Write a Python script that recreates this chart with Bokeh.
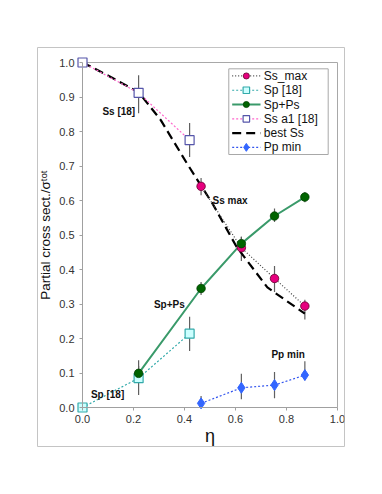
from bokeh.plotting import figure
from bokeh.models import FixedTicker, PrintfTickFormatter
from bokeh.core.properties import value
from bokeh.embed import file_html
from bokeh.resources import INLINE

# ---------------- data ----------------
x_ticks = [0.0, 0.2, 0.4, 0.6, 0.8, 1.0]
y_ticks = [0.0, 0.1, 0.2, 0.3, 0.4, 0.5, 0.6, 0.7, 0.8, 0.9, 1.0]

# Ss a1 [18]
ssa1_x = [0.0, 0.22, 0.42]
ssa1_y = [1.0, 0.912, 0.775]
ssa1_err_x = [0.22, 0.42]
ssa1_err_lo = [0.853, 0.726]
ssa1_err_hi = [0.963, 0.825]

# Sp [18]
sp18_x = [0.0, 0.22, 0.42]
sp18_y = [0.0, 0.085, 0.214]
sp18_err_x = [0.22, 0.42]
sp18_err_lo = [0.036, 0.164]
sp18_err_hi = [0.137, 0.263]

# Ss_max
ssmax_x = [0.465, 0.623, 0.753, 0.872]
ssmax_y = [0.641, 0.463, 0.374, 0.294]
ssmax_err_lo = [0.615, 0.425, 0.335, 0.255]
ssmax_err_hi = [0.665, 0.495, 0.410, 0.312]

# Sp+Ps
spps_x = [0.22, 0.465, 0.623, 0.753, 0.872]
spps_y = [0.099, 0.345, 0.475, 0.555, 0.610]
spps_err_lo = [0.080, 0.326, 0.450, 0.538, 0.595]
spps_err_hi = [0.120, 0.364, 0.495, 0.577, 0.625]

# Pp min
ppmin_x = [0.465, 0.623, 0.753, 0.872]
ppmin_y = [0.012, 0.057, 0.065, 0.094]
ppmin_err_lo = [0.000, 0.024, 0.027, 0.079]
ppmin_err_hi = [0.033, 0.098, 0.103, 0.134]

# best Ss (curve)
best_x = [0.0, 0.085, 0.22, 0.307, 0.41, 0.464, 0.51, 0.604, 0.725, 0.872]
best_y = [1.0, 0.968, 0.914, 0.833, 0.707, 0.644, 0.591, 0.466, 0.348, 0.272]

# in-plot annotations
note_text = ["Ss  [18]", "Ss max", "Sp+Ps", "Sp  [18]", "Pp min"]
note_x = [0.078, 0.51, 0.28, 0.033, 0.741]
note_y = [0.857, 0.601, 0.300, 0.037, 0.153]

# legend entries (top to bottom)
legend_labels = ["Ss_max", "Sp [18]", "Sp+Ps", "Ss a1 [18]", "best Ss", "Pp min"]

FONT = "Liberation Sans"

# The figure frame is the outer (chart area) box; the plot area is drawn inside it.
p = figure(width=346, height=448, output_backend="svg", toolbar_location=None,
           x_range=(-45 / 255, 1 + 7 / 255), y_range=(-39 / 345, 1 + 15 / 345),
           min_border_left=37, min_border_right=2, min_border_top=47, min_border_bottom=2)
p.grid.visible = False
p.outline_line_color = "#c4c4c4"
p.outline_line_width = 1

for ax in (p.xaxis[0], p.yaxis[0]):
    ax.fixed_location = 0
    ax.bounds = (0, 1)
    ax.axis_line_color = "#a0a0a0"
    ax.major_tick_line_color = "#a0a0a0"
    ax.major_tick_out = 3
    ax.major_tick_in = 0
    ax.minor_tick_line_color = None
    ax.major_label_text_font = FONT
    ax.major_label_text_font_size = "11px"
    ax.major_label_text_color = "#333333"
    ax.formatter = PrintfTickFormatter(format="%.1f")
    ax.axis_label_text_font = FONT
    ax.axis_label_text_font_style = "normal"
    ax.axis_label_text_color = "#111111"

p.xaxis.ticker = FixedTicker(ticks=x_ticks)
p.yaxis.ticker = FixedTicker(ticks=y_ticks)
p.xaxis.axis_label = "η"
p.xaxis.axis_label_text_font_size = "18px"
p.xaxis.axis_label_standoff = 0
p.xaxis.major_label_standoff = 4
p.yaxis.axis_label = "Partial cross sect./σᵗᵒᵗ"
p.yaxis.axis_label_text_font_size = "13.5px"
p.yaxis.axis_label_standoff = 3
p.yaxis.major_label_standoff = 5

# plot-area top and right border
p.line([0, 1], [1, 1], line_color="#a8a8a8", line_width=1)
p.line([1, 1], [0, 1], line_color="#a8a8a8", line_width=1)

ERR = "#606060"
# error bars
p.segment(x0=ssa1_err_x, y0=ssa1_err_lo, x1=ssa1_err_x, y1=ssa1_err_hi, line_color=ERR, line_width=1.2)
p.segment(x0=sp18_err_x, y0=sp18_err_lo, x1=sp18_err_x, y1=sp18_err_hi, line_color=ERR, line_width=1.2)
p.segment(x0=ssmax_x, y0=ssmax_err_lo, x1=ssmax_x, y1=ssmax_err_hi, line_color=ERR, line_width=1.2)
p.segment(x0=spps_x, y0=spps_err_lo, x1=spps_x, y1=spps_err_hi, line_color=ERR, line_width=1.2)
p.segment(x0=ppmin_x, y0=ppmin_err_lo, x1=ppmin_x, y1=ppmin_err_hi, line_color=ERR, line_width=1.2)

# styles per series
ST = {
    "Ss_max": dict(line=dict(line_color="#444444", line_width=1.2, line_dash="1 2"),
                   mark=dict(marker="circle", size=8.5, fill_color="#e6007e", line_color="#66002f", line_width=0.8)),
    "Sp [18]": dict(line=dict(line_color="#33aaaa", line_width=1.2, line_dash="2 2"),
                    mark=dict(marker="square", size=9, fill_color="#ccffff", line_color="#33aaaa", line_width=1.2)),
    "Sp+Ps": dict(line=dict(line_color="#3a9a6a", line_width=2),
                  mark=dict(marker="circle", size=8.5, fill_color="#006400", line_color="#004000", line_width=0.8)),
    "Ss a1 [18]": dict(line=dict(line_color="#ff66cc", line_width=1.2, line_dash="2 2"),
                       mark=dict(marker="square", size=9, fill_color="white", line_color="#5555aa", line_width=1.2)),
    "best Ss": dict(line=dict(line_color="black", line_width=2.2, line_dash="9 5"), mark=None),
    "Pp min": dict(line=dict(line_color="#3355ee", line_width=1.2, line_dash="2 2"),
                   mark=dict(marker="diamond", size=11, fill_color="#3366ff", line_color="#3366ff")),
}

# lines
p.line(best_x, best_y, **ST["best Ss"]["line"])
p.line(ssa1_x, ssa1_y, **ST["Ss a1 [18]"]["line"])
p.line(sp18_x, sp18_y, **ST["Sp [18]"]["line"])
p.line(ssmax_x, ssmax_y, **ST["Ss_max"]["line"])
p.line(spps_x, spps_y, **ST["Sp+Ps"]["line"])
p.line(ppmin_x, ppmin_y, **ST["Pp min"]["line"])

# markers
p.scatter(ssa1_x, ssa1_y, **ST["Ss a1 [18]"]["mark"])
p.scatter(sp18_x, sp18_y, **ST["Sp [18]"]["mark"])
p.scatter(ssmax_x, ssmax_y, **ST["Ss_max"]["mark"])
p.scatter(spps_x, spps_y, **ST["Sp+Ps"]["mark"])
p.scatter(ppmin_x, ppmin_y, **ST["Pp min"]["mark"])

# notes
p.text(x=note_x, y=note_y, text=note_text, text_font=value(FONT), text_font_size="10px",
       text_font_style="bold", text_baseline="middle", text_align="left", text_color="#111111")

# ---------------- legend box (drawn in plot-area coordinates) ----------------
LG_L, LG_R, LG_T, LG_B = 0.5737, 0.9635, 0.9817, 0.7333
row_h = (LG_T - LG_B) / len(legend_labels)
p.quad(left=[LG_L], right=[LG_R], top=[LG_T], bottom=[LG_B],
       fill_color="white", line_color="#a8a8a8", line_width=1)
gx0, gx1, gxm, tx = 0.587, 0.698, 0.6425, 0.711
for i, lab in enumerate(legend_labels):
    yy = LG_T - row_h * (i + 0.5)
    st = ST[lab]
    p.line([gx0, gx1], [yy, yy], **st["line"])
    if st["mark"] is not None:
        mk = dict(st["mark"])
        mk["size"] = mk["size"] * 0.72
        p.scatter([gxm], [yy], **mk)
p.text(x=[tx] * len(legend_labels),
       y=[LG_T - row_h * (i + 0.5) for i in range(len(legend_labels))],
       text=legend_labels, text_font=value(FONT), text_font_size="12px",
       text_baseline="middle", text_align="left", text_color="#111111")

open("out.html", "w").write(file_html(p, INLINE))
